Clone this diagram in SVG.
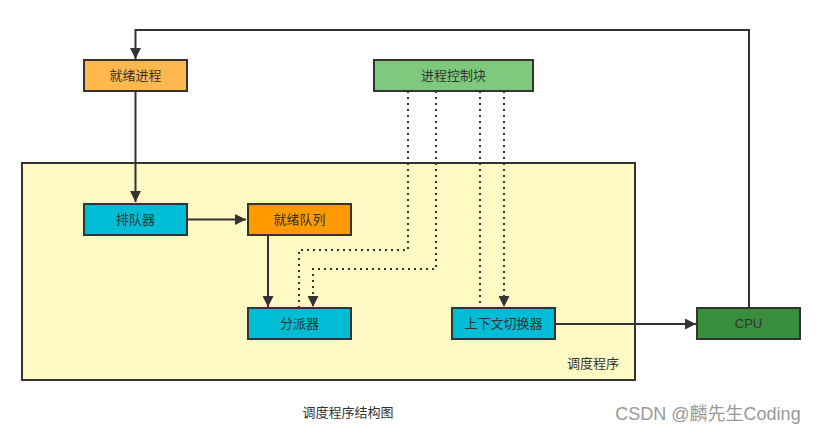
<svg xmlns="http://www.w3.org/2000/svg" width="821" height="434" viewBox="0 0 821 434">
<defs>
<style>
.box{stroke:#333;stroke-width:2}
.t{font-family:"Liberation Sans","Noto Sans CJK SC",sans-serif;font-size:13px;fill:#333;text-anchor:middle;dominant-baseline:central}
.ln{fill:none;stroke:#333;stroke-width:2}
.dt{fill:none;stroke:#333;stroke-width:2;stroke-dasharray:2 4}
</style>
<marker id="ah" viewBox="0 0 10 10" refX="10" refY="5" markerWidth="5.5" markerHeight="5.5" orient="auto" markerUnits="strokeWidth">
<path d="M0,0 L10,5 L0,10 z" fill="#333"/>
</marker>
</defs>
<rect width="821" height="434" fill="#fff"/>
<g id="container">
<rect x="22" y="163" width="613" height="217" fill="#FFF9C4" class="box"/>
<text x="593" y="363" class="t">调度程序</text>
</g>
<g id="connectors">
<path class="ln" d="M749,307 V30 H135.5 V59" marker-end="url(#ah)"/>
<path class="ln" d="M135.5,91 V202" marker-end="url(#ah)"/>
<path class="ln" d="M187,219.5 H246" marker-end="url(#ah)"/>
<path class="ln" d="M268,235 V307" marker-end="url(#ah)"/>
<path class="dt" d="M408,91 V250 H299 V307"/>
<path class="dt" d="M436,91 V269 H313 V307" marker-end="url(#ah)"/>
<path class="dt" d="M480,91 V307"/>
<path class="dt" d="M504,91 V307" marker-end="url(#ah)"/>
<path class="ln" d="M555,324 H696" marker-end="url(#ah)"/>
</g>
<g id="ready-process">
<rect x="84" y="60" width="103" height="31" fill="#FFB84D" class="box"/>
<text x="135.5" y="75.5" class="t">就绪进程</text>
</g>
<g id="pcb">
<rect x="374" y="60" width="159" height="31" fill="#7FC97F" class="box"/>
<text x="453.5" y="75.5" class="t">进程控制块</text>
</g>
<g id="queuer">
<rect x="84" y="204" width="103" height="31" fill="#00BCD4" class="box"/>
<text x="135.5" y="219.5" class="t">排队器</text>
</g>
<g id="ready-queue">
<rect x="248" y="204" width="103" height="31" fill="#FF9900" class="box"/>
<text x="299.5" y="219.5" class="t">就绪队列</text>
</g>
<g id="dispatcher">
<rect x="248" y="308" width="103" height="31" fill="#00BCD4" class="box"/>
<text x="299.5" y="323.5" class="t">分派器</text>
</g>
<g id="context-switcher">
<rect x="452" y="308" width="103" height="31" fill="#00BCD4" class="box"/>
<text x="503.5" y="323.5" class="t">上下文切换器</text>
</g>
<g id="cpu">
<rect x="697" y="308" width="103" height="31" fill="#388E3C" class="box"/>
<text x="748.5" y="323.5" class="t">CPU</text>
</g>
<text x="348" y="412" class="t">调度程序结构图</text>
<text x="708" y="414" style="font-family:'Liberation Sans','Noto Sans CJK SC',sans-serif;font-size:18px;fill:#999;text-anchor:middle;dominant-baseline:central">CSDN @麟先生Coding</text>
</svg>
